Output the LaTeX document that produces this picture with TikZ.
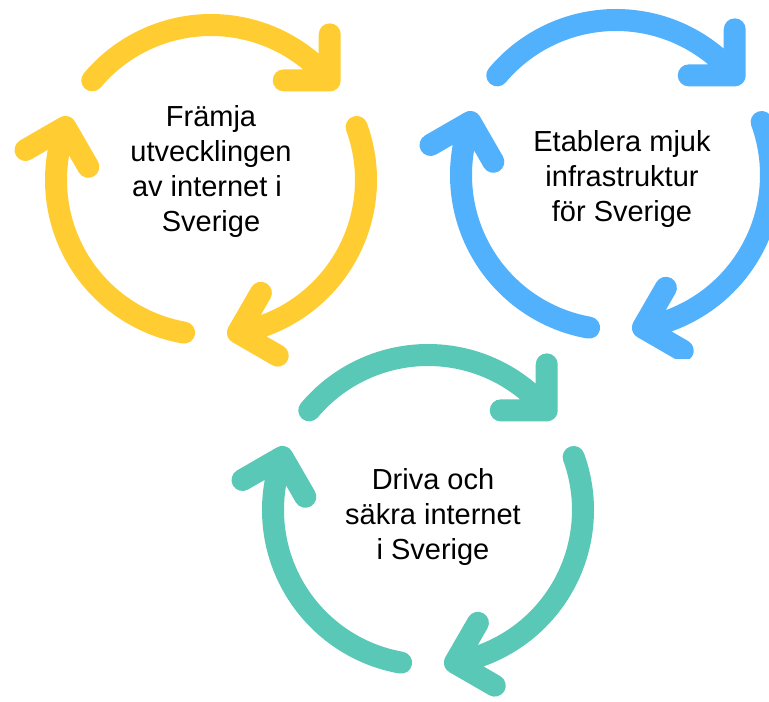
\documentclass[tikz,border=0pt]{standalone}
\usepackage{fontspec}
\setmainfont{Liberation Sans}
\usetikzlibrary{calc}
\definecolor{cycyellow}{HTML}{FFCD32}
\definecolor{cycblue}{HTML}{52B1FC}
\definecolor{cycteal}{HTML}{5AC8B6}
\tikzset{
  ring/.style={line width=22pt, line cap=round, line join=round},
  label/.style={align=center, inner sep=0pt, font=\fontsize{29}{35}\selectfont, text=black},
}
\newcommand{\cyclering}[2]{%
  \foreach \s in {140,20,260} {
    \pgfmathsetmacro{\e}{\s-100}
    \draw[ring, #2] ($(#1)+(\s:155)$) arc[start angle=\s, end angle=\e, radius=155]
      coordinate (t) -- ++(\e+50:46) (t) -- ++(\e+140:46);
  }%
}
\begin{document}
\begin{tikzpicture}[x=1pt, y=1pt]
  \useasboundingbox (0,0) rectangle (769,702);
  \fill[white] (0,0) rectangle (769,702);
  \coordinate (cy) at (211,522);
  \coordinate (cb) at (616,527);
  \coordinate (ct) at (428,192);
  \cyclering{cy}{cycyellow}
  \begin{scope}
    \clip (390,343) rectangle (769,702);
    \cyclering{cb}{cycblue}
  \end{scope}
  \cyclering{ct}{cycteal}
  \node[label, anchor=base] (ty) at (211,470) {Främja\\utvecklingen\\av internet i\kern8pt\\Sverige};
  \node[label, anchor=base] (tb) at (622,480) {Etablera mjuk\\infrastruktur\\för Sverige};
  \node[label, anchor=base] (tt) at (433,142) {Driva och\\säkra internet\\i Sverige};
\end{tikzpicture}
\end{document}
